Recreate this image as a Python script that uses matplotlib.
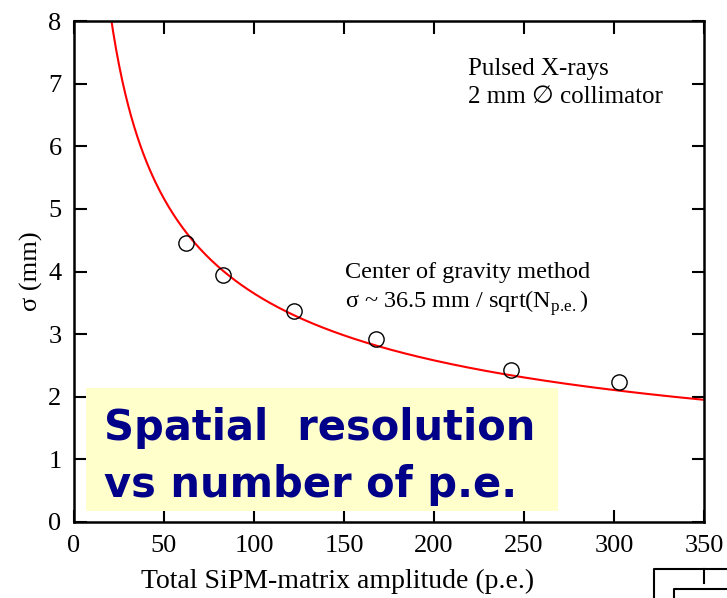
import numpy as np
import matplotlib.pyplot as plt
from matplotlib.lines import Line2D

# measured points
npe = [62, 83, 122, 168, 243, 303]
sigma = [4.46, 3.95, 3.37, 2.92, 2.43, 2.24]

# fit sigma ~ 36.5 / sqrt(N)
k_fit = 36.5
x_fit = np.linspace(15, 350, 400)

x_ticks = [0, 50, 100, 150, 200, 250, 300, 350]
y_ticks = [0, 1, 2, 3, 4, 5, 6, 7, 8]

plt.rcParams['font.family'] = ['Liberation Serif', 'DejaVu Sans']

fig = plt.figure(figsize=(7.27, 5.98), dpi=100)
ax = fig.add_axes([74 / 727, 1 - 522 / 598, 630 / 727, 501 / 598])

ax.plot(x_fit, k_fit / np.sqrt(x_fit), color='#ff0000', lw=1.5, zorder=2)
ax.plot(npe, sigma, 'o', mfc='none', mec='black', ms=11, mew=1.0, zorder=3)

ax.set_xlim(0, 350)
ax.set_ylim(0, 8)
ax.set_xticks(x_ticks)
ax.set_yticks(y_ticks)
ax.tick_params(direction='in', length=9, width=1.5, top=True, right=True,
               labelsize=19, pad=9)
for s in ax.spines.values():
    s.set_linewidth(1.8)

ax.set_xlabel('Total SiPM-matrix amplitude (p.e.)', fontsize=20, labelpad=9, x=0.419)
ax.set_ylabel('σ (mm)', fontsize=19, labelpad=4)

ax.text(0.625, 0.876, 'Pulsed X-rays\n2 mm \u2205 collimator', transform=ax.transAxes,
        fontsize=18, va='center', ha='left', linespacing=1.38)
ax.text(0.43, 0.499, 'Center of gravity method', transform=ax.transAxes,
        fontsize=17.5, va='center', ha='left')
ax.text(0.43, 0.437, r'σ ~ 36.5 mm / sqrt(N$_{\mathregular{p.\!e.}}$)', transform=ax.transAxes,
        fontsize=17.5, va='center', ha='left')

# yellow title box
fig.patches.append(plt.Rectangle((86 / 727, 1 - 511 / 598), 472 / 727, 123 / 598,
                                 transform=fig.transFigure, facecolor='#ffffcc',
                                 edgecolor='none', zorder=5))
fig.text(104 / 727, 1 - 428 / 598, 'Spatial  resolution', fontsize=30, fontweight='bold',
         color='#000088', family=['DejaVu Sans'], va='center', ha='left', zorder=6)
fig.text(104 / 727, 1 - 485 / 598, 'vs number of p.e.', fontsize=30, fontweight='bold',
         color='#000088', family=['DejaVu Sans'], va='center', ha='left', zorder=6)

# stray frame fragment at bottom right
def fl(xs, ys):
    fig.add_artist(Line2D([x / 727 for x in xs], [1 - y / 598 for y in ys],
                          transform=fig.transFigure, color='black', lw=1.5))

fl([654, 654, 727], [598, 569, 569])
fl([704, 704], [569, 583])
fl([674, 674, 727], [598, 589, 589])

fig.savefig('out.png', dpi=100)
